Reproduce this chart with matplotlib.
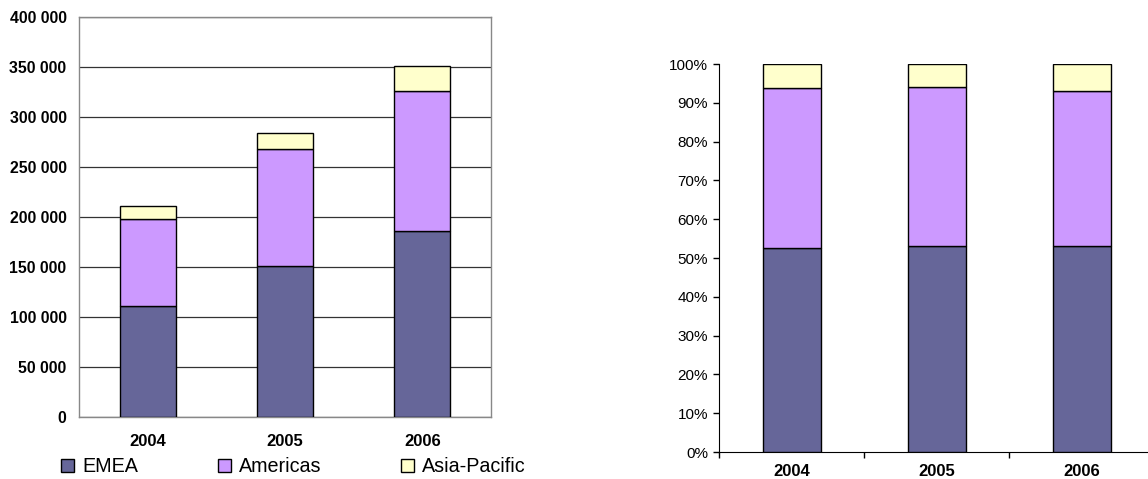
import matplotlib
matplotlib.use('Agg')
import matplotlib.pyplot as plt
import numpy as np
from matplotlib.patches import Patch
from matplotlib.ticker import FuncFormatter

plt.rcParams['font.family'] = ['Liberation Sans', 'DejaVu Sans']

years = ['2004', '2005', '2006']
regions = ['EMEA', 'Americas', 'Asia-Pacific']
emea = [111000, 151000, 186000]
americas = [87500, 117000, 140500]
asia = [13000, 16500, 24500]
colors = ['#666699', '#CC99FF', '#FFFFCC']

W, H = 1148, 479
fig = plt.figure(figsize=(W / 100, H / 100), dpi=100)

series = [np.array(emea), np.array(americas), np.array(asia)]
x = np.arange(len(years))

# left: absolute stacked
ax1 = fig.add_axes([79 / W, (H - 417) / H, 412 / W, 400 / H])
bottom = np.zeros(len(years))
for s, c in zip(series, colors):
    ax1.bar(x, s, 0.41, bottom=bottom, color=c, edgecolor='black', linewidth=1, zorder=3)
    bottom += s
ax1.set_xlim(-0.5, 2.5)
ax1.set_ylim(0, 400000)
ax1.set_yticks(range(0, 400001, 50000))
ax1.yaxis.set_major_formatter(FuncFormatter(lambda v, p: f'{int(v):,}'.replace(',', ' ')))
ax1.set_xticks(x)
ax1.set_xticklabels(years)
ax1.tick_params(axis='both', length=0)
ax1.tick_params(axis='y', pad=9, labelsize=11.4)
ax1.tick_params(axis='x', pad=12, labelsize=12)
for lab in ax1.get_xticklabels() + ax1.get_yticklabels():
    lab.set_fontweight('bold')
ax1.grid(axis='y', color='#333333', linewidth=0.9, zorder=0)
for sp in ax1.spines.values():
    sp.set_color('#888888')
    sp.set_linewidth(1)

# right: 100% stacked
ax2 = fig.add_axes([719 / W, (H - 452) / H, 435 / W, 388 / H])
total = sum(series)
bottom = np.zeros(len(years))
for s, c in zip(series, colors):
    share = s / total
    ax2.bar(x, share, 0.40, bottom=bottom, color=c, edgecolor='black', linewidth=1, zorder=3)
    bottom += share
ax2.set_xlim(-0.5, 2.5)
ax2.set_ylim(0, 1)
ax2.set_yticks(np.arange(0, 1.01, 0.1))
ax2.yaxis.set_major_formatter(FuncFormatter(lambda v, p: f'{v * 100:.0f}%'))
ax2.set_xticks([-0.5, 0.5, 1.5], minor=False)
ax2.set_xticklabels([])
ax2.set_xticks(x, minor=True)
ax2.set_xticklabels(years, minor=True)
ax2.tick_params(axis='x', which='minor', length=0, pad=9, labelsize=12)
ax2.tick_params(axis='x', which='major', length=4, width=1, color='black', direction='out')
ax2.tick_params(axis='y', length=4, width=1, color='black', direction='out', pad=4, labelsize=11)
for lab in ax2.get_xticklabels(minor=True):
    lab.set_fontweight('bold')
ax2.spines['top'].set_visible(False)
ax2.spines['right'].set_visible(False)
ax2.spines['left'].set_color('black')
ax2.spines['bottom'].set_color('black')

handles = [Patch(facecolor=c, edgecolor='black', linewidth=1) for c in colors]
fig.legend(handles, regions, loc='center left', bbox_to_anchor=(61 / W, 1 - 467 / H),
           ncol=3, frameon=False, fontsize=14.2, borderpad=0, borderaxespad=0,
           handlelength=0.66, handleheight=0.66, handletextpad=0.4, columnspacing=4.05)

fig.savefig('out.png', dpi=100)
